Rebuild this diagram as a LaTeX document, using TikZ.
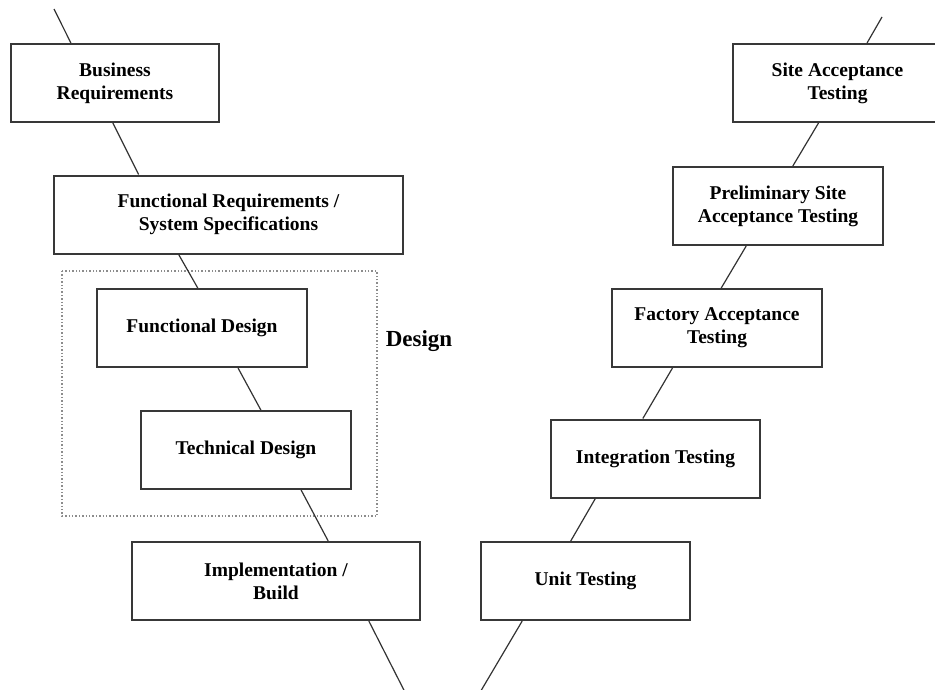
\documentclass[tikz,border=0pt]{standalone}
\usepackage{fontspec}
\setmainfont{Liberation Serif}
\usetikzlibrary{calc}
\tikzset{
  stage/.style={draw=black!78, line width=2pt, fill=white, align=center,
    inner sep=0pt, minimum height=78pt,
    font=\fontsize{19.5}{23}\selectfont\bfseries},
  link/.style={draw=black!80, line width=1.2pt},
}
\begin{document}
\begin{tikzpicture}[x=1pt, y=-1pt]
    \useasboundingbox (0, 0) rectangle (935, 689);
    % left arm of the V
    \node[stage, minimum width=208pt] (busreq) at (115, 83) {Business\\Requirements};
    \node[stage, minimum width=349pt] (funcreq) at (228.5, 214.5) {Functional Requirements /\\System Specifications};
    \node[stage, minimum width=210pt] (funcdes) at (202, 328) {Functional Design};
    \node[stage, minimum width=210pt] (techdes) at (246, 450) {Technical Design};
    \node[stage, minimum width=288pt] (impl) at (276, 581) {Implementation /\\Build};
    % right arm of the V
    \node[stage, minimum width=209pt] (unittest) at (585.5, 581) {Unit Testing};
    \node[stage, minimum width=209pt] (integtest) at (655.5, 458.5) {Integration Testing};
    \node[stage, minimum width=210pt] (fat) at (717, 328) {Factory Acceptance\\Testing};
    \node[stage, minimum width=210pt] (presat) at (778, 206) {Preliminary Site\\Acceptance Testing};
    \node[stage, minimum width=209pt] (sat) at (837.5, 83) {Site Acceptance\\Testing};
    % design group
    \draw[black!45, dotted, line width=1.4pt] (62, 271) rectangle (377, 516);
    \node[font=\fontsize{23}{27}\selectfont\bfseries] (design) at (419, 341) {Design};
    % connectors
    \coordinate (lefttop) at (54, 9);
    \coordinate (leftbot) at (409, 700);
    \coordinate (righttop) at (882, 17);
    \coordinate (rightbot) at (475.5, 700);
    \draw[link] (lefttop) -- ($(busreq.north west)!0.29!(busreq.north east)$);
    \draw[link] ($(impl.south west)!0.82!(impl.south east)$) -- (leftbot);
    \draw[link] (righttop) -- ($(sat.north west)!0.64!(sat.north east)$);
    \draw[link] ($(unittest.south west)!0.2!(unittest.south east)$) -- (rightbot);
    \foreach \a/\p/\b/\q in {busreq/0.49/funcreq/0.244, funcreq/0.358/funcdes/0.48,
        funcdes/0.67/techdes/0.57, techdes/0.76/impl/0.68,
        sat/0.41/presat/0.57, presat/0.35/fat/0.52,
        fat/0.29/integtest/0.44, integtest/0.215/unittest/0.43}
      \draw[link] ($(\a.south west)!\p!(\a.south east)$) -- ($(\b.north west)!\q!(\b.north east)$);
\end{tikzpicture}
\end{document}
